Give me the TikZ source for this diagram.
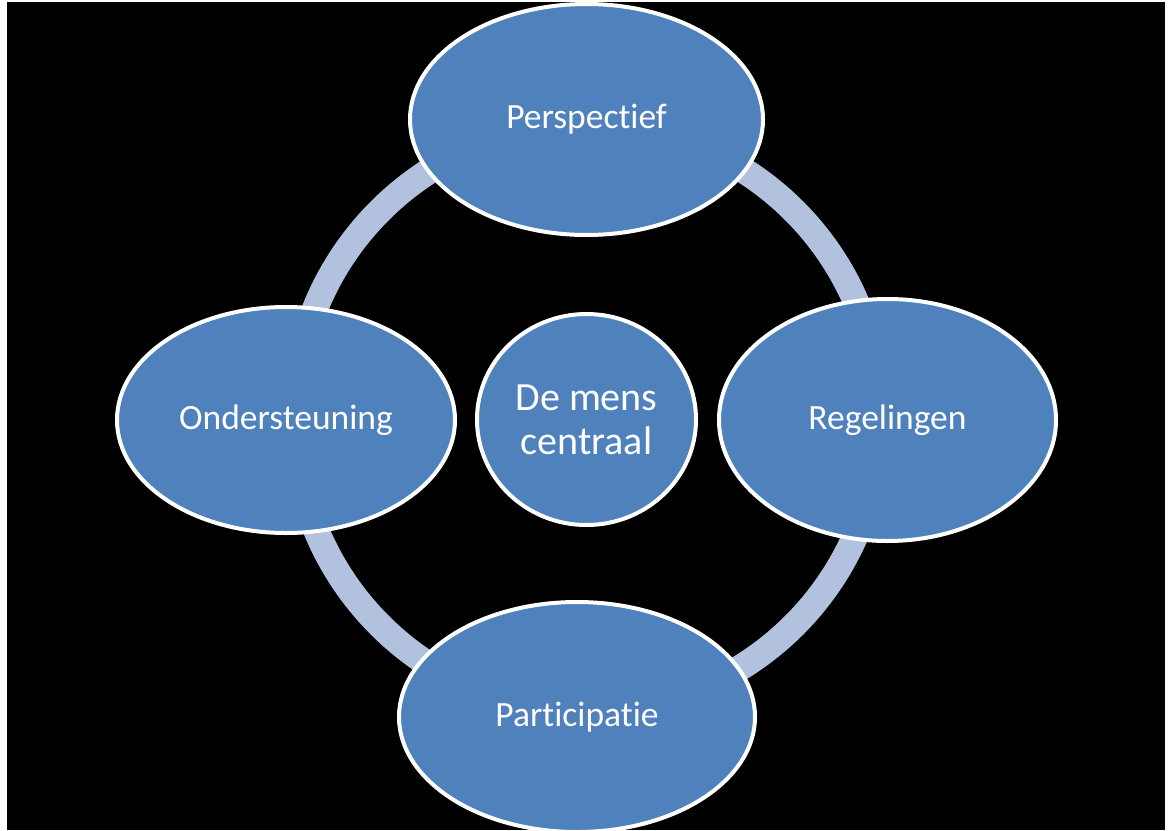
\documentclass[tikz,border=0pt]{standalone}
\usepackage{fontspec}
\setmainfont{Carlito}[Ligatures=NoCommon]
\usepackage{xcolor}
\usepackage{tikz}
\usetikzlibrary{shapes,shapes.geometric,calc,positioning}
\definecolor{petalblue}{RGB}{79,129,189}
\definecolor{ringblue}{RGB}{177,193,222}
\tikzset{
  petal/.style={ellipse, draw=white, line width=4pt, fill=petalblue, text=white,
  inner sep=0pt, font=\fontsize{35.5}{42}\selectfont},
  hub/.style={petal, align=center, font=\fontsize{40}{44}\selectfont,
  minimum width=219pt, minimum height=211pt},
  ring/.style={draw=ringblue, line width=26pt}
}

\begin{document}
\begin{tikzpicture}[x=1pt,y=-1pt]
		\clip (0,0) rectangle (1170,830);
		\fill[white] (0,0) rectangle (1170,830);
		\fill[black] (7,2) rectangle (1165,830);
		\node[hub] (hub) at (586.5,419.5) {De mens\\centraal};
		\draw[ring] (587,418) circle (293);
		\node[petal, minimum width=353pt, minimum height=231pt] (persp) at (586.5,119.5) {Perspectief};
		\node[petal, minimum width=338pt, minimum height=226pt] (onder) at (286,420) {Ondersteuning};
		\node[petal, minimum width=337pt, minimum height=242pt] (regel) at (887.5,420) {Regelingen};
		\node[petal, minimum width=356pt, minimum height=230pt] (parti) at (577,717) {Participatie};
\end{tikzpicture}
\end{document}
